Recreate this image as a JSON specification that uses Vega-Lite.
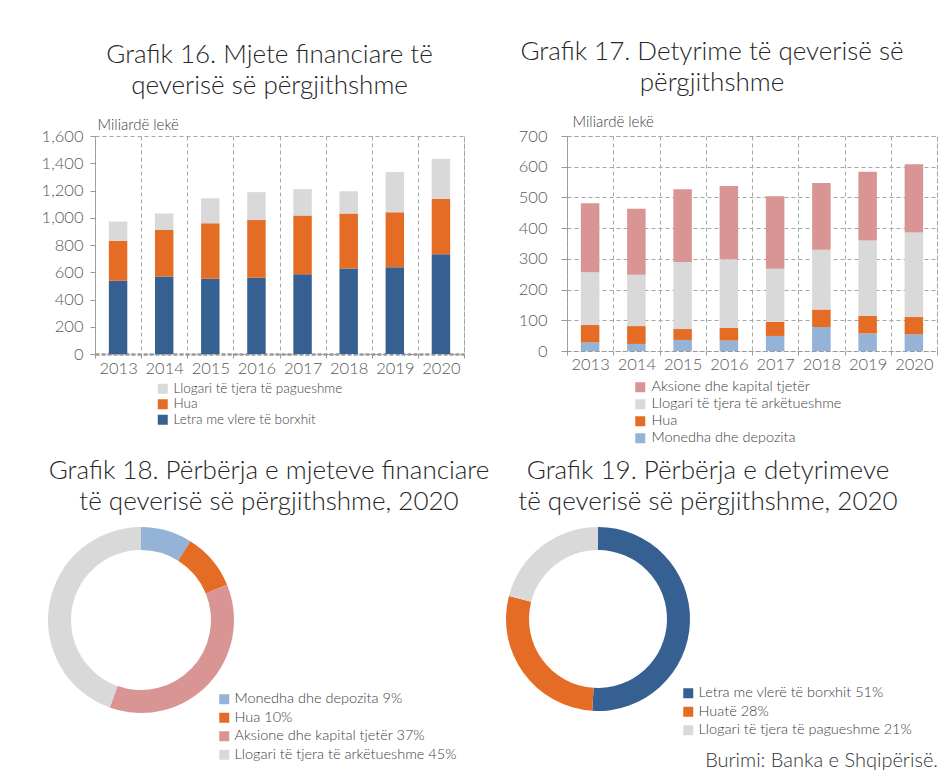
{
  "$schema": "https://vega.github.io/schema/vega-lite/v6.json",
  "background": "white",
  "padding": {"left": 40, "top": 38, "right": 0, "bottom": 0},
  "datasets": {
    "g16": [
      {"year": "2013", "category": "Letra me vlere të borxhit", "value": 538},
      {"year": "2013", "category": "Hua", "value": 294},
      {"year": "2013", "category": "Llogari të tjera të pagueshme", "value": 141},
      {"year": "2014", "category": "Letra me vlere të borxhit", "value": 568},
      {"year": "2014", "category": "Hua", "value": 343},
      {"year": "2014", "category": "Llogari të tjera të pagueshme", "value": 121},
      {"year": "2015", "category": "Letra me vlere të borxhit", "value": 553},
      {"year": "2015", "category": "Hua", "value": 407},
      {"year": "2015", "category": "Llogari të tjera të pagueshme", "value": 183},
      {"year": "2016", "category": "Letra me vlere të borxhit", "value": 560},
      {"year": "2016", "category": "Hua", "value": 423},
      {"year": "2016", "category": "Llogari të tjera të pagueshme", "value": 205},
      {"year": "2017", "category": "Letra me vlere të borxhit", "value": 585},
      {"year": "2017", "category": "Hua", "value": 432},
      {"year": "2017", "category": "Llogari të tjera të pagueshme", "value": 193},
      {"year": "2018", "category": "Letra me vlere të borxhit", "value": 627},
      {"year": "2018", "category": "Hua", "value": 405},
      {"year": "2018", "category": "Llogari të tjera të pagueshme", "value": 163},
      {"year": "2019", "category": "Letra me vlere të borxhit", "value": 637},
      {"year": "2019", "category": "Hua", "value": 403},
      {"year": "2019", "category": "Llogari të tjera të pagueshme", "value": 296},
      {"year": "2020", "category": "Letra me vlere të borxhit", "value": 733},
      {"year": "2020", "category": "Hua", "value": 405},
      {"year": "2020", "category": "Llogari të tjera të pagueshme", "value": 294}
    ],
    "g17": [
      {"year": "2013", "category": "Monedha dhe depozita", "value": 28},
      {"year": "2013", "category": "Hua", "value": 56.5},
      {"year": "2013", "category": "Llogari të tjera të arkëtueshme", "value": 171.5},
      {"year": "2013", "category": "Aksione dhe kapital tjetër", "value": 225},
      {"year": "2014", "category": "Monedha dhe depozita", "value": 23},
      {"year": "2014", "category": "Hua", "value": 58},
      {"year": "2014", "category": "Llogari të tjera të arkëtueshme", "value": 167},
      {"year": "2014", "category": "Aksione dhe kapital tjetër", "value": 215},
      {"year": "2015", "category": "Monedha dhe depozita", "value": 36},
      {"year": "2015", "category": "Hua", "value": 35.5},
      {"year": "2015", "category": "Llogari të tjera të arkëtueshme", "value": 218.5},
      {"year": "2015", "category": "Aksione dhe kapital tjetër", "value": 237},
      {"year": "2016", "category": "Monedha dhe depozita", "value": 34},
      {"year": "2016", "category": "Hua", "value": 41},
      {"year": "2016", "category": "Llogari të tjera të arkëtueshme", "value": 224},
      {"year": "2016", "category": "Aksione dhe kapital tjetër", "value": 238},
      {"year": "2017", "category": "Monedha dhe depozita", "value": 49},
      {"year": "2017", "category": "Hua", "value": 46},
      {"year": "2017", "category": "Llogari të tjera të arkëtueshme", "value": 173},
      {"year": "2017", "category": "Aksione dhe kapital tjetër", "value": 236},
      {"year": "2018", "category": "Monedha dhe depozita", "value": 78},
      {"year": "2018", "category": "Hua", "value": 57},
      {"year": "2018", "category": "Llogari të tjera të arkëtueshme", "value": 195},
      {"year": "2018", "category": "Aksione dhe kapital tjetër", "value": 217},
      {"year": "2019", "category": "Monedha dhe depozita", "value": 57},
      {"year": "2019", "category": "Hua", "value": 57},
      {"year": "2019", "category": "Llogari të tjera të arkëtueshme", "value": 246},
      {"year": "2019", "category": "Aksione dhe kapital tjetër", "value": 224},
      {"year": "2020", "category": "Monedha dhe depozita", "value": 54},
      {"year": "2020", "category": "Hua", "value": 56.5},
      {"year": "2020", "category": "Llogari të tjera të arkëtueshme", "value": 275.5},
      {"year": "2020", "category": "Aksione dhe kapital tjetër", "value": 222}
    ],
    "g18": [
      {"category": "Monedha dhe depozita 9%", "value": 9},
      {"category": "Hua 10%", "value": 10},
      {"category": "Aksione dhe kapital tjetër 37%", "value": 37},
      {"category": "Llogari të tjera të arkëtueshme 45%", "value": 45}
    ],
    "g19": [
      {"category": "Letra me vlerë të borxhit 51%", "value": 51},
      {"category": "Huatë 28%", "value": 28},
      {"category": "Llogari të tjera të pagueshme 21%", "value": 21}
    ]
  },
  "config": {
    "font": "Lato",
    "view": {"stroke": null},
    "title": {"font": "Lato", "fontWeight": 300, "fontSize": 26, "color": "#262626", "lineHeight": 31},
    "axis": {
      "labelFont": "Lato", "labelFontSize": 16.5, "labelColor": "#595959", "labelFontWeight": 300,
      "titleFont": "Lato", "titleFontSize": 15, "titleFontWeight": 300, "titleColor": "#404040",
      "domainColor": "#999999", "tickColor": "#999999", "gridColor": "#A6A6A6", "gridDash": [4, 3]
    },
    "legend": {
      "labelFont": "Lato", "labelFontWeight": 300, "labelColor": "#404040", "symbolType": "square",
      "symbolStrokeWidth": 0, "title": null, "labelLimit": 0
    }
  },
  "resolve": {"scale": {"color": "independent"}, "legend": {"color": "independent"}},
  "title": {
    "text": "Burimi: Banka e Shqipërisë.",
    "orient": "bottom", "anchor": "end", "fontSize": 20, "fontWeight": 300, "color": "#333333",
    "offset": -11, "dx": 0
  },
  "spacing": 12,
  "vconcat": [
    {
      "spacing": 52,
      "resolve": {"scale": {"color": "independent"}, "legend": {"color": "independent"}},
      "hconcat": [
        {
          "data": {"name": "g16"},
          "width": 369, "height": 218,
          "view": {"stroke": "#A6A6A6", "strokeDash": [4, 3]},
          "title": {"text": ["Grafik 16. Mjete financiare të", "qeverisë së përgjithshme"], "frame": "group", "anchor": "middle", "dx": -10, "offset": 18},
          "transform": [{"calculate": "indexof(['Letra me vlere të borxhit', 'Hua', 'Llogari të tjera të pagueshme'], datum.category)", "as": "ord"}],
          "mark": {"type": "bar", "width": {"band": 0.4}},
          "encoding": {
            "x": {"field": "year", "type": "ordinal", "scale": {"paddingInner": 0, "paddingOuter": 0},
              "axis": {"title": null, "labelAngle": 0, "tickBand": "extent", "grid": true, "domainDash": [4, 2], "domainWidth": 2.5, "tickSize": 4, "labelPadding": 2}},
            "y": {"field": "value", "type": "quantitative", "stack": "zero", "scale": {"domain": [0, 1600]},
              "axis": {"values": [0, 200, 400, 600, 800, 1000, 1200, 1400, 1600], "format": ",d", "grid": false,
                "title": "Miliardë lekë", "titleAngle": 0, "titleAlign": "left", "titleBaseline": "alphabetic", "titleX": 2, "titleY": -7,
                "domainDash": [4, 3], "tickSize": 5, "labelPadding": 7}},
            "color": {"field": "category", "type": "nominal",
              "scale": {"domain": ["Llogari të tjera të pagueshme", "Hua", "Letra me vlere të borxhit"], "range": ["#D9D9D9", "#E46C24", "#366092"]},
              "legend": {"orient": "none", "legendX": 61, "legendY": 246, "labelFontSize": 13.5, "symbolSize": 100, "rowPadding": 0.5, "labelOffset": 4}},
            "order": {"field": "ord", "type": "quantitative"}
          }
        },
        {
          "data": {"name": "g17"},
          "width": 370, "height": 215,
          "view": {"stroke": "#A6A6A6", "strokeDash": [4, 3]},
          "title": {"text": ["Grafik 17. Detyrime të qeverisë së", "përgjithshme"], "frame": "group", "anchor": "middle", "dx": -40, "offset": 18},
          "transform": [{"calculate": "indexof(['Monedha dhe depozita', 'Hua', 'Llogari të tjera të arkëtueshme', 'Aksione dhe kapital tjetër'], datum.category)", "as": "ord"}],
          "mark": {"type": "bar", "width": {"band": 0.4}},
          "encoding": {
            "x": {"field": "year", "type": "ordinal", "scale": {"paddingInner": 0, "paddingOuter": 0},
              "axis": {"title": null, "labelAngle": 0, "tickBand": "extent", "grid": true, "domainDash": [4, 3], "tickSize": 4, "labelPadding": 1}},
            "y": {"field": "value", "type": "quantitative", "stack": "zero", "scale": {"domain": [0, 700]},
              "axis": {"values": [0, 100, 200, 300, 400, 500, 600, 700], "grid": true,
                "title": "Miliardë lekë", "titleAngle": 0, "titleAlign": "left", "titleBaseline": "alphabetic", "titleX": 5, "titleY": -10,
                "domainDash": [4, 3], "tickSize": 6, "labelPadding": 14}},
            "color": {"field": "category", "type": "nominal",
              "scale": {"domain": ["Aksione dhe kapital tjetër", "Llogari të tjera të arkëtueshme", "Hua", "Monedha dhe depozita"], "range": ["#D99594", "#D9D9D9", "#E46C24", "#95B3D7"]},
              "legend": {"orient": "none", "legendX": 66, "legendY": 244, "labelFontSize": 14.5, "symbolSize": 100, "rowPadding": 2, "labelOffset": 4}},
            "order": {"field": "ord", "type": "quantitative"}
          }
        }
      ]
    },
    {
      "spacing": 319,
      "bounds": "flush",
      "resolve": {"scale": {"color": "independent"}, "legend": {"color": "independent"}},
      "hconcat": [
        {
          "data": {"name": "g18"},
          "width": 92, "height": 186,
          "title": {"text": ["Grafik 18. Përbërja e mjeteve financiare", "të qeverisë së përgjithshme, 2020"], "frame": "group", "anchor": "middle", "dx": 128, "offset": 12},
          "transform": [{"calculate": "indexof(['Monedha dhe depozita 9%', 'Hua 10%', 'Aksione dhe kapital tjetër 37%', 'Llogari të tjera të arkëtueshme 45%'], datum.category)", "as": "ord"}],
          "mark": {"type": "arc", "innerRadius": 70, "outerRadius": 93},
          "encoding": {
            "theta": {"field": "value", "type": "quantitative", "stack": true},
            "order": {"field": "ord", "type": "quantitative"},
            "color": {"field": "category", "type": "nominal",
              "scale": {"domain": ["Monedha dhe depozita 9%", "Hua 10%", "Aksione dhe kapital tjetër 37%", "Llogari të tjera të arkëtueshme 45%"], "range": ["#95B3D7", "#E46C24", "#D99594", "#D9D9D9"]},
              "legend": {"orient": "none", "legendX": 122, "legendY": 165, "labelFontSize": 14.5, "symbolSize": 100, "rowPadding": 3.5, "labelOffset": 3}}
          }
        },
        {
          "data": {"name": "g19"},
          "width": 184, "height": 184,
          "title": {"text": ["Grafik 19. Përbërja e detyrimeve", "të qeverisë së përgjithshme, 2020"], "frame": "group", "anchor": "middle", "dx": 110, "offset": 12},
          "transform": [{"calculate": "indexof(['Letra me vlerë të borxhit 51%', 'Huatë 28%', 'Llogari të tjera të pagueshme 21%'], datum.category)", "as": "ord"}],
          "mark": {"type": "arc", "innerRadius": 69, "outerRadius": 92},
          "encoding": {
            "theta": {"field": "value", "type": "quantitative", "stack": true},
            "order": {"field": "ord", "type": "quantitative"},
            "color": {"field": "category", "type": "nominal",
              "scale": {"domain": ["Letra me vlerë të borxhit 51%", "Huatë 28%", "Llogari të tjera të pagueshme 21%"], "range": ["#366092", "#E46C24", "#D9D9D9"]},
              "legend": {"orient": "none", "legendX": 175, "legendY": 159, "labelFontSize": 14.5, "symbolSize": 100, "rowPadding": 3.5, "labelOffset": 3}}
          }
        }
      ]
    }
  ]
}
